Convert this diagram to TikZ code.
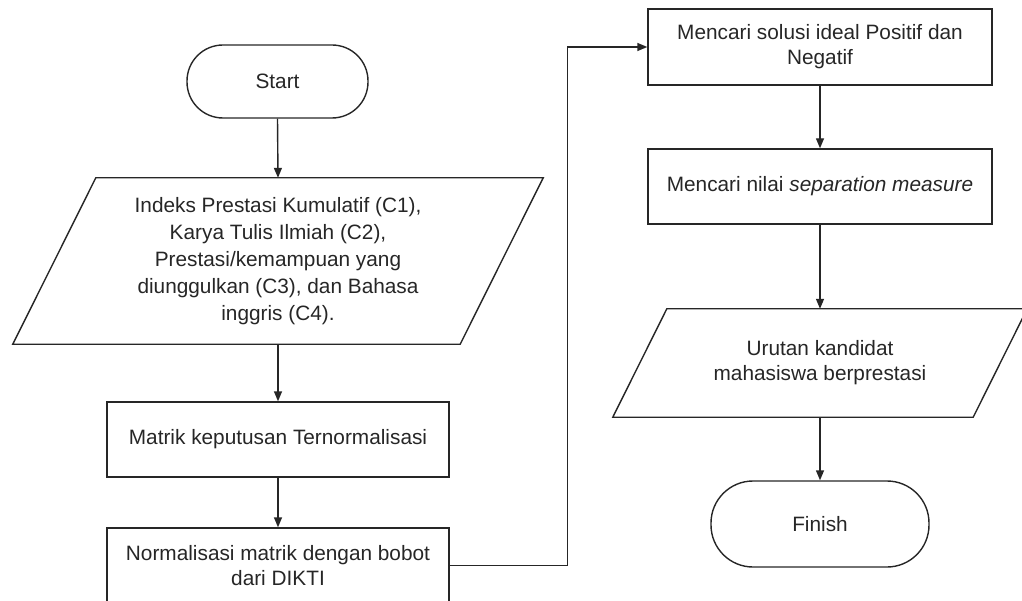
\documentclass[tikz,border=0pt]{standalone}
\usepackage{fontspec}
\setmainfont{Liberation Sans}
\usetikzlibrary{arrows.meta,calc}
\definecolor{ink}{HTML}{262626}
\begin{document}
\begin{tikzpicture}[x=1pt,y=-1pt,
  every node/.style={font=\fontsize{20.8}{25}\selectfont, text=ink, inner sep=0pt, align=center},
  outline/.style={draw=ink, line width=1.4pt},
  proc/.style={rectangle, outline, minimum width=342pt, minimum height=75pt},
  term/.style={rectangle, outline},
  io/.style={rectangle, draw=none},
  flow/.style={draw=ink, line width=1.4pt, -{Triangle[length=10pt,width=8pt]}}
]
\useasboundingbox (0,0) rectangle (1022,601);

% left column
\node[term, minimum width=181pt, minimum height=73pt, rounded corners=36pt] (start) at (277.5,81.5) {Start};

\node[io, minimum width=447pt, minimum height=166pt,
      font=\fontsize{20.8}{27}\selectfont] (data) at (278,261)
  {Indeks Prestasi Kumulatif (C1),\\ Karya Tulis Ilmiah (C2),\\ Prestasi/kemampuan yang\\ diunggulkan (C3), dan Bahasa\\ inggris (C4).};
\draw[outline] ($(data.north west)+(41.5,0)$) -- ($(data.north east)+(41.5,0)$)
  -- ($(data.south east)+(-41.5,0)$) -- ($(data.south west)+(-41.5,0)$) -- cycle;

\node[proc] (matrik) at (278,439.5) {Matrik keputusan Ternormalisasi};
\node[proc] (norm) at (278,565.5) {Normalisasi matrik dengan bobot\\ dari DIKTI};

% right column
\node[proc, minimum width=344pt, minimum height=76pt] (sol) at (820,47) {Mencari solusi ideal Positif dan\\ Negatif};
\node[proc, minimum width=344pt] (sep) at (820,186.5) {Mencari nilai \textit{separation measure}};

\node[io, minimum width=360pt, minimum height=108pt] (rank) at (820,363)
  {Urutan kandidat\\ mahasiswa berprestasi};
\draw[outline] ($(rank.north west)+(27,0)$) -- ($(rank.north east)+(27,0)$)
  -- ($(rank.south east)+(-27,0)$) -- ($(rank.south west)+(-27,0)$) -- cycle;

\node[term, minimum width=218pt, minimum height=86pt, rounded corners=42pt] (finish) at (820,524) {Finish};

% connectors
\draw[flow] (start.south) -- (data.north);
\draw[flow] (data.south) -- (matrik.north);
\draw[flow] (matrik.south) -- (norm.north);
\draw[flow] (norm.east) -- ++(118,0) |- (sol.west);
\draw[flow] (sol.south) -- (sep.north);
\draw[flow] (sep.south) -- (rank.north);
\draw[flow] (rank.south) -- (finish.north);
\end{tikzpicture}
\end{document}
